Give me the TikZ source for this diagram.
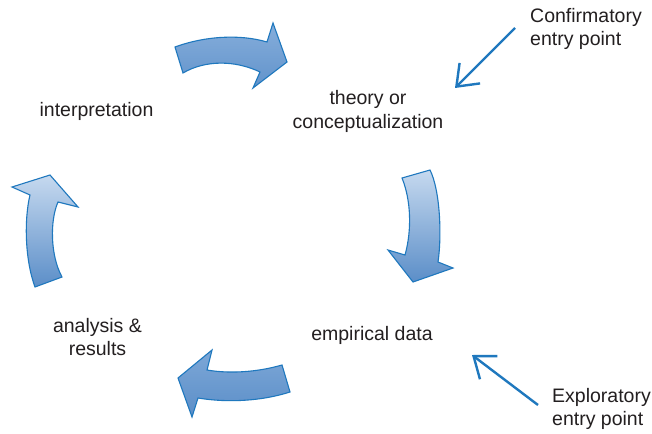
\documentclass[tikz,border=0pt]{standalone}
\usepackage{fontspec}
\setmainfont{Liberation Sans}
\usetikzlibrary{arrows.meta}
\definecolor{edgeblue}{HTML}{1F78BE}
\definecolor{txt}{HTML}{231F20}
\definecolor{lightb}{HTML}{C6D9EF}
\definecolor{midb}{HTML}{86AEDB}
\definecolor{darkb}{HTML}{5B8EC8}
\tikzset{
  cyclearrow/.style={draw=edgeblue, line width=1.1pt, line join=miter},
  label/.style={text=txt, font=\fontsize{19.5}{23}\selectfont, inner sep=0pt},
  entry/.style={draw=edgeblue, line width=2.4pt,
    -{Straight Barb[length=19pt,width=29pt,line width=2.4pt]}},
}
\begin{document}
\begin{tikzpicture}[x=1pt,y=-1pt]
\useasboundingbox[fill=white] (0,0) rectangle (652,433);
% cycle arrows
\path[cyclearrow, top color=midb, bottom color=darkb!85!midb]
  (175,47) .. controls (205,36) and (240,34) .. (267,42) -- (273,23) -- (287,62)
  -- (253,88) -- (260,72) .. controls (235,60) and (205,60) .. (183,73) -- cycle;
\path[cyclearrow, top color=lightb, bottom color=darkb]
  (402,178) -- (430,170) .. controls (440,190) and (442,235) .. (438,262)
  -- (453,268) -- (413,282) -- (388,250) -- (405,255)
  .. controls (412,230) and (411,200) .. (402,178) -- cycle;
\path[cyclearrow, top color=midb!80!darkb, bottom color=darkb]
  (282,365) .. controls (258,372) and (230,374) .. (207,370) -- (212,350)
  -- (178,378) -- (192,417) -- (198,398)
  .. controls (228,403) and (262,401) .. (290,392) -- cycle;
\path[cyclearrow, top color=lightb, bottom color=darkb]
  (35,287) .. controls (25,260) and (24,220) .. (30,195) -- (12,187) -- (50,175)
  -- (78,207) -- (58,202) .. controls (50,220) and (50,255) .. (62,277) -- cycle;
% labels (base anchor = baseline of last line)
\node[label, anchor=base] (interp) at (96.5,117) {interpretation};
\node[label, anchor=base, align=center] (theory) at (368,128) {theory or\\conceptualization};
\node[label, anchor=base] (empir) at (372,340) {empirical data};
\node[label, anchor=base, align=center] (anal) at (97.5,355) {analysis \&\\results};
\node[label, anchor=base west, align=left] (conf) at (530,46) {Confirmatory\\entry point};
\node[label, anchor=base west, align=left] (expl) at (552,425) {Exploratory\\entry point};
% entry arrows
\coordinate (confstart) at (515,28);
\coordinate (conftip) at (455,88);
\coordinate (explstart) at (538,405);
\coordinate (expltip) at (472,355);
\draw[entry] (confstart) -- (conftip);
\draw[entry] (explstart) -- (expltip);
\end{tikzpicture}
\end{document}
